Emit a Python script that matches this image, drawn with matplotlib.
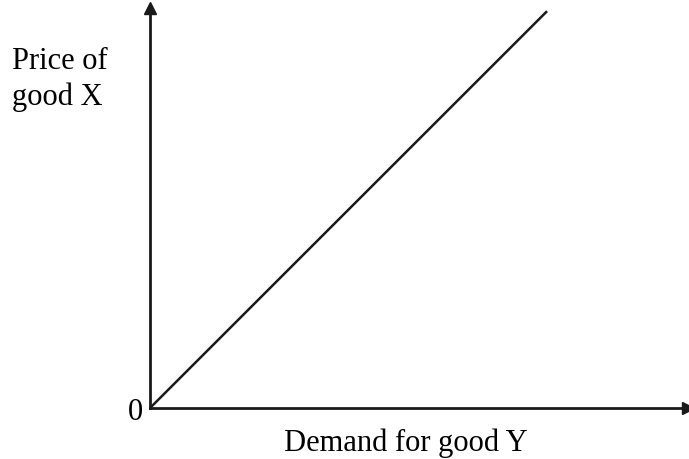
import matplotlib.pyplot as plt

# price of good X rises in step with demand for good Y
demand = [0, 10]
price = [0, 10]

plt.rcParams['font.family'] = ['Liberation Serif', 'DejaVu Serif']

fig = plt.figure(figsize=(6.89, 4.60), dpi=100)
ax = fig.add_axes([150 / 689, 51 / 460, 538 / 689, 400 / 460])

ax.plot(demand, price, color='#1a1a1a', linewidth=1.8, solid_capstyle='butt')
ax.set_xlim(0, 13.55)
ax.set_ylim(0, 10.08)

for side in ['top', 'right']:
    ax.spines[side].set_visible(False)
for side in ['left', 'bottom']:
    ax.spines[side].set_linewidth(2.0)
    ax.spines[side].set_color('#1a1a1a')
ax.set_xticks([])
ax.set_yticks([])

# arrow heads on the axes
ax.plot(1, 0, marker='>', markersize=9, color='#1a1a1a', transform=ax.transAxes, clip_on=False)
ax.plot(0, 1, marker='^', markersize=9, color='#1a1a1a', transform=ax.transAxes, clip_on=False)

fig.text(12 / 689, 1 - 105 / 460, 'Price of\ngood X', fontsize=22, ha='left', va='baseline',
         linespacing=1.3)
fig.text(135 / 689, 1 - 420 / 460, '0', fontsize=22, ha='center', va='baseline')
fig.text(406 / 689, 1 - 451 / 460, 'Demand for good Y', fontsize=22, ha='center', va='baseline')

fig.savefig('out.png', dpi=100)
